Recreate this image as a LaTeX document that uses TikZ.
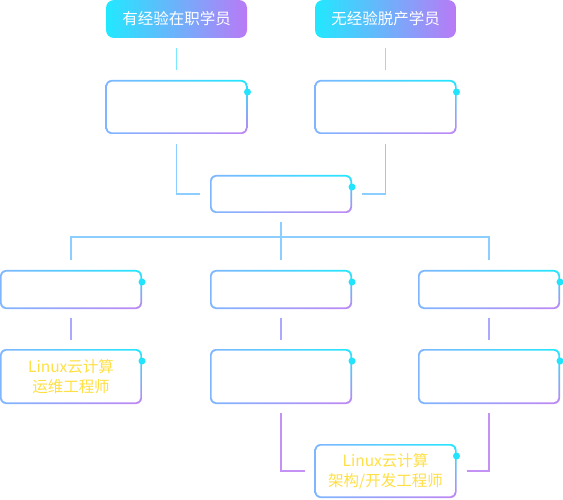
\documentclass[tikz,border=0pt]{standalone}
\usepackage{fontspec}
\setmainfont{Noto Sans CJK SC}
\usepackage{xcolor}
\usepackage{tikz}
\usetikzlibrary{shadings}

\definecolor{cyanhi}{HTML}{22E8FF}
\definecolor{purplehi}{HTML}{B97AF6}
\definecolor{bluelo}{HTML}{7FB6FF}
\definecolor{purplelo}{HTML}{C383F3}
\definecolor{dotcyan}{HTML}{22E4FF}
\definecolor{linecyan}{HTML}{7AE8FF}
\definecolor{lineblue}{HTML}{8CCEFF}
\definecolor{linelav}{HTML}{ABA8FF}
\definecolor{linepurple}{HTML}{C492F4}
\definecolor{goldtext}{HTML}{FFE044}

\tikzset{
  headbox/.style={rounded corners=8pt, left color=cyanhi, right color=purplehi,
    minimum width=141pt, minimum height=38pt, inner sep=0pt, outer sep=0pt,
    text=white, font=\fontsize{15.5}{18}\selectfont},
  stagebox/.style={rounded corners=6pt, minimum width=142pt, inner sep=0pt, outer sep=0pt,
    text=goldtext, align=center, font=\fontsize{15.5}{20}\selectfont,
    path picture={
      \shade[upper left=bluelo, upper right=cyanhi, lower left=bluelo, lower right=purplelo]
        (path picture bounding box.south west) rectangle (path picture bounding box.north east);
      \fill[white, rounded corners=5pt]
        ([shift={(1.6pt,1.6pt)}]path picture bounding box.south west) rectangle
        ([shift={(-1.6pt,-1.6pt)}]path picture bounding box.north east);
    }},
  link/.style={line width=1.2pt}
}

\begin{document}
\begin{tikzpicture}[x=1pt, y=-1pt]
    \useasboundingbox (0,0) rectangle (563,500);

    % Starting points
    \node[headbox] (job) at (176.5,19) {有经验在职学员};
    \node[headbox] (fresh) at (385.5,19) {无经验脱产学员};

    % First stage
    \node[stagebox, minimum height=54pt] (jobstage) at (176.5,107) {};
    \node[stagebox, minimum height=54pt] (freshstage) at (385.5,107) {};
    \draw[link, linecyan] ([yshift=-10pt]job.south) -- ([yshift=10pt]jobstage.north);
    \draw[link, linecyan] ([yshift=-10pt]fresh.south) -- ([yshift=10pt]freshstage.north);

    % Common stage
    \node[stagebox, minimum height=38pt] (common) at (281,194) {};
    \draw[link, lineblue] ([yshift=-10pt]jobstage.south) |- ([xshift=-10pt]common.west);
    \draw[link, lineblue] ([yshift=-10pt]freshstage.south) |- ([xshift=10pt]common.east);

    % Three tracks
    \node[stagebox, minimum height=39pt] (opsa) at (71,289.5) {};
    \node[stagebox, minimum height=39pt] (archa) at (281,289.5) {};
    \node[stagebox, minimum height=39pt] (devta) at (489,289.5) {};
    \coordinate (bus) at (281,237);
    \draw[link, lineblue] ([yshift=-9pt]common.south) -- ([yshift=10pt]archa.north);
    \draw[link, lineblue] ([yshift=10pt]opsa.north) |- (bus) -| ([yshift=10pt]devta.north);

    % Track results
    \node[stagebox, minimum height=55pt] (opsb) at (71,376.5) {Linux云计算\\运维工程师};
    \node[stagebox, minimum height=55pt] (archb) at (281,376.5) {};
    \node[stagebox, minimum height=55pt] (devtb) at (489,376.5) {};
    \foreach \top/\bot in {opsa/opsb, archa/archb, devta/devtb}
        \draw[link, linelav] ([yshift=-9pt]\top.south) -- ([yshift=9pt]\bot.north);

    % Final goal
    \node[stagebox, minimum height=54pt] (goal) at (385.5,471) {Linux云计算\\架构/开发工程师};
    \draw[link, linepurple] ([yshift=-9pt]archb.south) |- ([xshift=-10pt]goal.west);
    \draw[link, linepurple] ([yshift=-9pt]devtb.south) |- ([xshift=10pt]goal.east);

    % Corner dots
    \foreach \n in {jobstage, freshstage, common, opsa, archa, devta, opsb, archb, devtb, goal}
        \fill[dotcyan] ([yshift=-12pt]\n.north east) circle (3.5pt);
\end{tikzpicture}
\end{document}
